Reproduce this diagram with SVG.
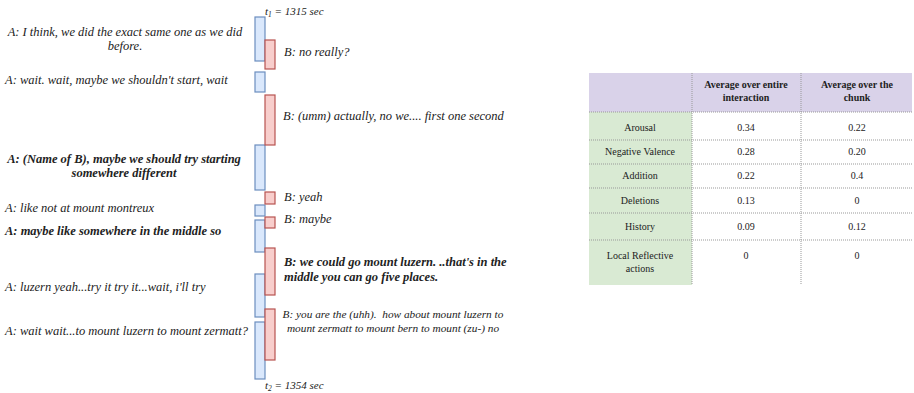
<svg xmlns="http://www.w3.org/2000/svg" width="914" height="393" viewBox="0 0 914 393">
<style>
.it{font-style:italic;font-size:12.5px}
.sm{font-size:11.3px}
.b{font-weight:bold}
.ts{font-style:italic;font-size:11px}
.a{fill:#dae8fc;stroke:#6c8ebf;stroke-width:1.2}
.r{fill:#f8cecc;stroke:#b85450;stroke-width:1.2}
.tb{font-size:10px;text-anchor:middle}
.th{font-size:10px;font-weight:bold;text-anchor:middle}
.dl{stroke:#999;stroke-width:1;stroke-dasharray:1 1;fill:none}
.c{text-anchor:middle}
</style>
<rect width="914" height="393" fill="#fff"/>
<g font-family="Liberation Serif" fill="#222">
<g id="timeline">
<text class="ts" x="265" y="15">t<tspan font-size="7.5" dy="2">1</tspan><tspan dy="-2"> = 1315 sec</tspan></text>
<text class="ts" x="265" y="389">t<tspan font-size="7.5" dy="2">2</tspan><tspan dy="-2"> = 1354 sec</tspan></text>
</g>
<g id="turns-A">
<rect class="a" x="255" y="17" width="10" height="44"/>
<rect class="a" x="255" y="72" width="10" height="20"/>
<rect class="a" x="255" y="145" width="10" height="45"/>
<rect class="a" x="255" y="205" width="10" height="11"/>
<rect class="a" x="255" y="220" width="10" height="32"/>
<rect class="a" x="255" y="274" width="10" height="43"/>
<rect class="a" x="255" y="322" width="10" height="57"/>
</g>
<g id="turns-B">
<rect class="r" x="265" y="40" width="10" height="29"/>
<rect class="r" x="265" y="95" width="10" height="50"/>
<rect class="r" x="265" y="192" width="10" height="12"/>
<rect class="r" x="265" y="217" width="10" height="11"/>
<rect class="r" x="265" y="248" width="10" height="47"/>
<rect class="r" x="265" y="309" width="10" height="51"/>
</g>
<g id="utterances-A">
<text class="it c" x="125" y="36">A: I think, we did the exact same one as we did</text>
<text class="it c" x="125" y="50">before.</text>
<text class="it" x="5" y="84">A: wait. wait, maybe we shouldn't start, wait</text>
<text class="it b c" x="124" y="163">A: (Name of B), maybe we should try starting</text>
<text class="it b c" x="124" y="177">somewhere different</text>
<text class="it" x="5" y="212">A: like not at mount montreux</text>
<text class="it b" x="5" y="235">A: maybe like somewhere in the middle so</text>
<text class="it" x="5" y="291">A: luzern yeah...try it try it...wait, i'll try</text>
<text class="it" x="5" y="335">A: wait wait...to mount luzern to mount zermatt?</text>
</g>
<g id="utterances-B">
<text class="it" x="284" y="56">B: no really?</text>
<text class="it" x="283" y="120">B: (umm) actually, no we.... first one second</text>
<text class="it" x="284" y="201">B: yeah</text>
<text class="it" x="284" y="223">B: maybe</text>
<text class="it b" x="284" y="266">B: we could go mount luzern. ..that's in the</text>
<text class="it b" x="284" y="281">middle you can go five places.</text>
<text class="it sm c" x="393" y="318" xml:space="preserve">B: you are the (uhh).  how about mount luzern to</text>
<text class="it sm c" x="393" y="332">mount zermatt to mount bern to mount (zu-) no</text>
</g>
<g id="table">
<rect x="589" y="73" width="323" height="39" fill="#d9d2e9"/>
<rect x="589" y="112" width="103" height="173" fill="#d9ead3"/>
<path class="dl" d="M589 112H912M589 140H912M589 164H912M589 188H912M589 213H912M589 240H912M692 73V285M801 73V285"/>
<text class="th" x="746" y="88">Average over entire</text>
<text class="th" x="746" y="101">interaction</text>
<text class="th" x="857" y="88">Average over the</text>
<text class="th" x="857" y="101">chunk</text>
<text class="tb" x="640" y="131">Arousal</text>
<text class="tb" x="746" y="131">0.34</text>
<text class="tb" x="857" y="131">0.22</text>
<text class="tb" x="640" y="155">Negative Valence</text>
<text class="tb" x="746" y="155">0.28</text>
<text class="tb" x="857" y="155">0.20</text>
<text class="tb" x="640" y="179">Addition</text>
<text class="tb" x="746" y="179">0.22</text>
<text class="tb" x="857" y="179">0.4</text>
<text class="tb" x="640" y="204">Deletions</text>
<text class="tb" x="746" y="204">0.13</text>
<text class="tb" x="857" y="204">0</text>
<text class="tb" x="640" y="230">History</text>
<text class="tb" x="746" y="230">0.09</text>
<text class="tb" x="857" y="230">0.12</text>
<text class="tb" x="640" y="259">Local Reflective</text>
<text class="tb" x="640" y="272">actions</text>
<text class="tb" x="746" y="259">0</text>
<text class="tb" x="857" y="259">0</text>
</g>
</g>
</svg>
